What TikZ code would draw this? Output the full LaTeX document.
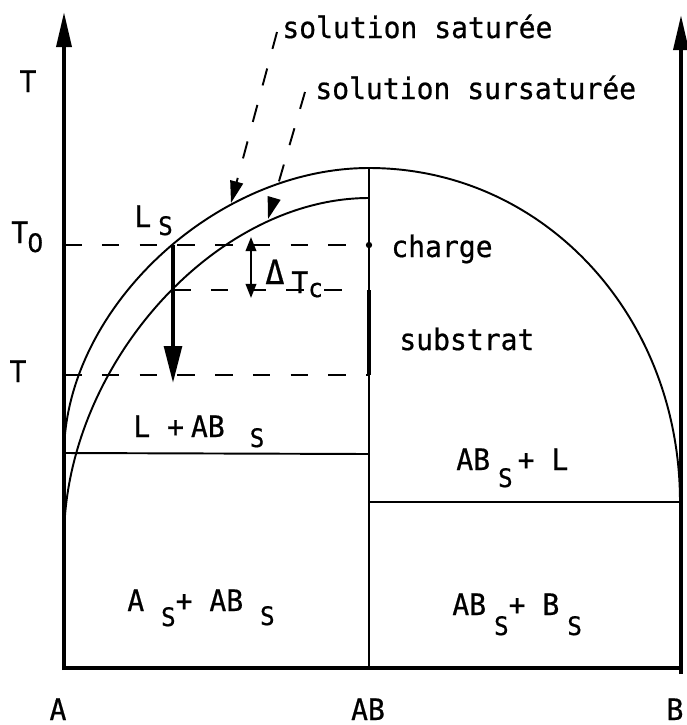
\documentclass[tikz,border=0pt]{standalone}
\usepackage{fontspec}
\newfontfamily\figfont[FakeStretch=0.95,FakeBold=0.6]{DejaVu Sans Mono}
\newfontfamily\figsans[FakeBold=0.6]{DejaVu Sans}
\usetikzlibrary{arrows.meta}
\newlength\px \setlength\px{0.02cm}
% subscript lowered by #1 px
\newcommand\low[2]{\raisebox{-#1\px}{\fontsize{14.5}{14}\selectfont #2}}
\begin{document}
\begin{tikzpicture}[x=0.02cm,y=-0.02cm,
	lbl/.style={inner sep=0pt,anchor=base west,font=\figfont\fontsize{16.8}{19}\selectfont},
	lblc/.style={lbl,anchor=base},
	axe/.style={line width=2.2pt,-{Triangle[length=20pt,width=8.5pt]}},
	courbe/.style={line width=1.1pt},
	tiret/.style={line width=1.1pt,dash pattern=on 10pt off 11.5pt},
	renvoi/.style={tiret,-{Triangle[length=12.5pt,width=7.4pt]}}]
	\useasboundingbox (0,0) rectangle (687,725);
	\path
	(64,670) coordinate(A0) (64,12) coordinate(Ahaut)
	(681,674) coordinate(B0) (681,15) coordinate(Bhaut)
	(369,668) coordinate(AB0) (369,168) coordinate(ABhaut)
	(64,455) coordinate(satA) (680,502) coordinate(satB)
	(64,540) coordinate(sursatA) (369,198) coordinate(sursatAB)
	(64,245) coordinate(To) (369,245) coordinate(ToAB)
	(64,375) coordinate(Tf) (369,375) coordinate(TfAB)
	(173,290) coordinate(Tc) (360,290) coordinate(TcAB)
	(231,203) coordinate(psat) (268,219) coordinate(psursat)
	(277,32) coordinate(rsat) (305,92) coordinate(rsursat)
	;
	\path
	(282,38) node[lbl](sat){solution saturée}
	(315,99) node[lbl](sursat){solution sursaturée}
	(28,92) node[lblc](tT){T}
	(11,243) node[lbl](tTo){T\kern-1\px\low{9}{\figsans 0}}
	(134,227) node[lbl](tLs){L\kern7\px\low{8}{S}}
	(18,382) node[lblc](tTf){T}
	(265,293) node[lbl](tdT){\raisebox{9\px}{\fontsize{19}{19}\selectfont Δ}\kern7\px T\low{4}{c}}
	(391,257) node[lbl](charge){charge}
	(399,350) node[lbl](substrat){substrat}
	(133,437) node[lbl](LABs){L +\kern7\px AB\kern25\px\low{10}{S}}
	(456,470) node[lbl](ABsL){AB\kern8\px\low{17}{S}\kern5\px+ L}
	(127,611) node[lbl](AsABs){A \low{15}{S}+ AB \low{14}{S}}
	(452,615) node[lbl](ABsBs){AB\kern8\px\low{20}{S}+ B\kern8\px\low{20}{S}}
	(58,720) node[lblc](tA){A}
	(368,720) node[lblc](tAB){AB}
	(675,720) node[lblc](tB){B}
	;
	% axes
	\draw[axe] (A0)--(Ahaut);
	\draw[axe] (B0)--(Bhaut);
	\draw[line width=2.2pt] (64,668)--(681,668);
	% courbes de solubilite
	\draw[courbe] (satA) .. controls (64,310) and (214,168) .. (ABhaut)
		.. controls (543,168) and (680,315) .. (satB);
	\draw[courbe] (sursatA) .. controls (64,367) and (214,198) .. (sursatAB);
	\draw[courbe] (AB0)--(ABhaut);
	\draw[line width=2.2pt] (369,290)--(TfAB);
	\fill (ToAB) circle[radius=1.8pt];
	\draw[courbe] (64,453)--(369,454);
	\draw[courbe] (369,502)--(satB);
	% temperatures
	\draw[tiret] (To)--(ToAB);
	\draw[tiret] (Tc)--(TcAB);
	\draw[tiret] (Tf)--(TfAB);
	\draw[line width=2.2pt,-{Triangle[length=21pt,width=10pt]}] (173,245)--(173,383);
	\draw[line width=1.1pt,{Triangle[length=8pt,width=6pt]}-{Triangle[length=8pt,width=6pt]}] (251,237)--(251,298);
	% renvois
	\draw[renvoi] (rsat)--(psat);
	\draw[renvoi] (rsursat)--(psursat);
\end{tikzpicture}
\end{document}
